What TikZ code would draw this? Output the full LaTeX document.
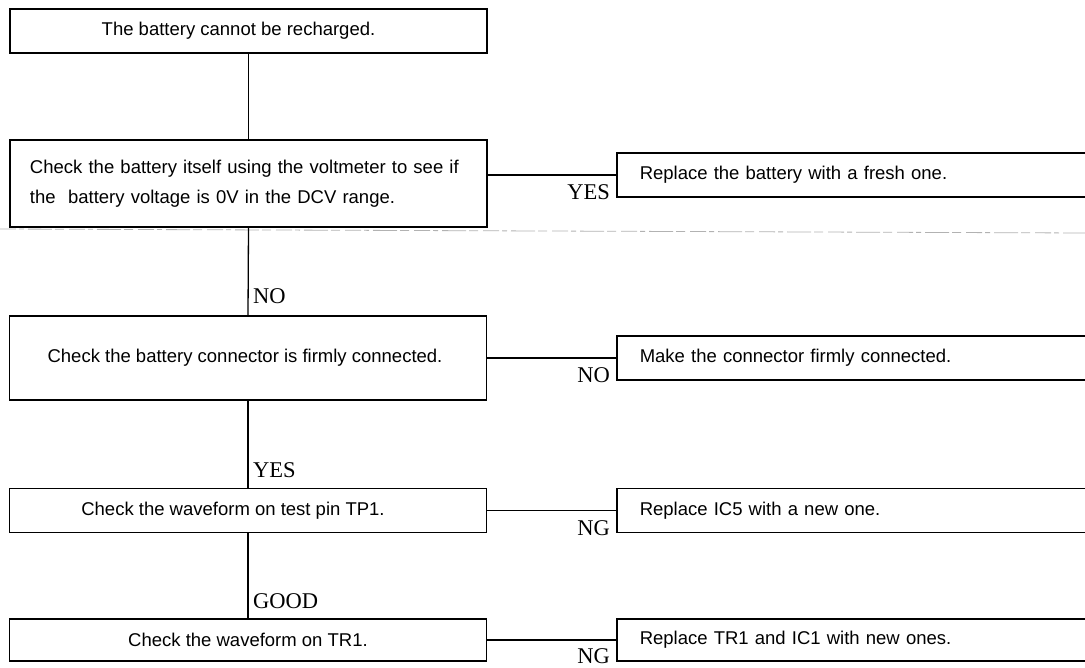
\documentclass[tikz,border=0pt]{standalone}
\usepackage{fontspec}
\newfontfamily\boxfont{Liberation Sans}
\newfontfamily\tagfont{Liberation Serif}
\begin{document}
\begin{tikzpicture}[x=1pt,y=-1pt,
  stepbox/.style={draw, line width=1.5pt, minimum width=477pt, inner sep=0pt,
    font=\boxfont\fontsize{18.5}{30}\selectfont},
  fixbox/.style={draw, line width=1.5pt, anchor=west, text width=460pt, inner xsep=23pt,
    inner ysep=0pt, align=left, font=\boxfont\fontsize{18.5}{30}\selectfont},
  tag/.style={inner sep=0pt, font=\tagfont\fontsize{22.5}{22.5}\selectfont},
  link/.style={line width=1.3pt},
  crease/.style={gray!60, line width=0.8pt,
    dash pattern=on 16pt off 3pt on 5pt off 4pt on 24pt off 3pt on 9pt off 5pt}]
\useasboundingbox (0,0) rectangle (1085,668);
\clip (0,0) rectangle (1085,668);

% faint crease across the sheet
\draw[crease] (0,229) -- (1085,233);

% main column of checks
\node[stepbox, minimum height=44pt] (b1) at (248.5,31)
  {The battery cannot be recharged.\hspace*{20pt}};
\node[stepbox, minimum height=87pt, text width=437pt, align=left] (b2) at (248.5,183.5)
  {Check the battery itself using the voltmeter to see if\\the\ \ battery voltage is 0V in the DCV range.};
\node[stepbox, minimum height=84pt] (b3) at (248,358)
  {Check the battery connector is firmly connected.\hspace*{6pt}};
\node[stepbox, minimum height=44pt] (b4) at (248,510.5)
  {Check the waveform on test pin TP1.\hspace*{30pt}};
\node[stepbox, minimum height=42pt] (b5) at (248,640)
  {Check the waveform on TR1.};

% remedies, running off the right edge
\node[fixbox, minimum height=44pt] (r1) at (616,175) {Replace the battery with a fresh one.};
\node[fixbox, minimum height=44pt] (r2) at (616,358) {Make the connector firmly connected.};
\node[fixbox, minimum height=44pt] (r3) at (616,510.5) {Replace IC5 with a new one.};
\node[fixbox, minimum height=42pt] (r4) at (616,640) {Replace TR1 and IC1 with new ones.};

% trunk
\draw[link] (b1.south) -- (b2.north);
\draw[link] (b2.south) -- (b3.north);
\draw[link] (b3.south) -- (b4.north);
\draw[link] (b4.south) -- (b5.north);

% branches
\draw[link] (r1.west -| b2.east) -- (r1.west);
\draw[link] (b3.east) -- (r2.west);
\draw[link] (b4.east) -- (r3.west);
\draw[link] (b5.east) -- (r4.west);

% trunk answers
\node[tag, anchor=base west] (t1) at ([xshift=5pt,yshift=12pt]b3.north) {NO};
\node[tag, anchor=base west] (t2) at ([xshift=5pt,yshift=10pt]b4.north) {YES};
\node[tag, anchor=base west] (t3) at ([xshift=5pt,yshift=10pt]b5.north) {GOOD};

% branch answers
\node[tag, anchor=base east] (s1) at ([xshift=-6pt,yshift=-2pt]r1.south west) {YES};
\node[tag, anchor=base east] (s2) at ([xshift=-6pt,yshift=-2pt]r2.south west) {NO};
\node[tag, anchor=base east] (s3) at ([xshift=-6pt,yshift=-2pt]r3.south west) {NG};
\node[tag, anchor=base east] (s4) at ([xshift=-6pt,yshift=-2pt]r4.south west) {NG};
\end{tikzpicture}
\end{document}
